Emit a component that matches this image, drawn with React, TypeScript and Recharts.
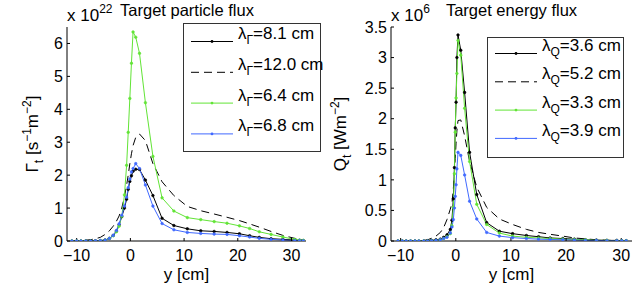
import React from 'react';
import { LineChart, Line, XAxis, YAxis } from 'recharts';

// positions along the target, y [cm]
const LEFT_X = [-10.9, -10.0, -9.2, -8.3, -7.4, -6.5, -5.6, -4.7, -3.9, -3.2, -2.6, -2.1, -1.6, -1.1, -0.7, -0.4, -0.1, 0.2, 0.5, 1.0, 1.7, 2.8, 4.2, 5.9, 8.1, 10.6, 13.1, 15.6, 18.0, 20.3, 22.2, 24.0, 26.2, 28.4, 30.6, 31.5, 32.2];
const RIGHT_X = [-10.5, -9.7, -9.0, -8.2, -7.4, -6.7, -5.8, -5.1, -4.4, -3.6, -2.8, -2.2, -1.6, -1.0, -0.7, -0.45, -0.25, -0.1, 0.05, 0.2, 0.4, 0.9, 1.6, 2.5, 3.8, 5.6, 7.9, 10.3, 12.8, 15.0, 17.1, 19.4, 21.5, 23.5, 25.5, 27.4, 29.2, 30.1, 30.9];

// particle flux, x 1e22
const GAMMA_81 = [0, 0, 0, 0, 0, 0.005, 0.01, 0.03, 0.08, 0.17, 0.30, 0.49, 0.74, 1.0, 1.27, 1.57, 1.81, 1.98, 2.12, 2.18, 2.17, 1.85, 1.38, 0.69, 0.47, 0.37, 0.31, 0.29, 0.26, 0.22, 0.16, 0.11, 0.07, 0.05, 0.03, 0.02, 0.01];
const GAMMA_120 = [0, 0.01, 0.015, 0.025, 0.04, 0.07, 0.11, 0.2, 0.31, 0.45, 0.6, 0.76, 1.0, 1.35, 1.7, 2.0, 2.35, 2.65, 2.9, 3.15, 3.25, 3.05, 2.35, 1.8, 1.38, 1.05, 0.92, 0.82, 0.72, 0.62, 0.52, 0.42, 0.29, 0.17, 0.08, 0.05, 0.03];
const GAMMA_64 = [0, 0, 0, 0, 0, 0, 0.01, 0.03, 0.08, 0.16, 0.28, 0.45, 0.75, 1.4, 2.3, 3.3, 4.33, 5.4, 6.35, 6.19, 5.7, 4.2, 2.57, 1.31, 0.91, 0.71, 0.65, 0.59, 0.54, 0.46, 0.38, 0.28, 0.2, 0.12, 0.05, 0.03, 0.02];
const GAMMA_68 = [0, 0, 0, 0, 0, 0.005, 0.01, 0.03, 0.08, 0.17, 0.32, 0.52, 0.78, 1.06, 1.33, 1.62, 1.88, 2.1, 2.2, 2.35, 2.2, 1.7, 1.06, 0.53, 0.34, 0.26, 0.23, 0.21, 0.2, 0.16, 0.12, 0.08, 0.05, 0.03, 0.01, 0.01, 0.005];

// energy flux, x 1e6
const Q_36 = [0, 0, 0, 0, 0, 0, 0, 0.005, 0.01, 0.02, 0.03, 0.06, 0.1, 0.19, 0.34, 0.69, 1.2, 1.85, 2.27, 3.0, 3.37, 3.12, 2.43, 1.45, 0.76, 0.3, 0.16, 0.12, 0.09, 0.07, 0.05, 0.04, 0.03, 0.02, 0.016, 0.01, 0.01, 0.005, 0.005];
const Q_52 = [0, 0, 0, 0, 0, 0.005, 0.01, 0.02, 0.045, 0.08, 0.14, 0.22, 0.35, 0.52, 0.62, 0.85, 1.1, 1.35, 1.6, 1.8, 1.97, 1.98, 1.72, 1.3, 0.88, 0.55, 0.36, 0.27, 0.19, 0.14, 0.11, 0.08, 0.05, 0.035, 0.02, 0.012, 0.007, 0.005, 0.004];
const Q_33 = [0, 0, 0, 0, 0, 0, 0, 0, 0.005, 0.01, 0.02, 0.04, 0.07, 0.12, 0.25, 0.55, 1.1, 1.78, 2.34, 2.74, 3.28, 3.04, 2.17, 1.3, 0.6, 0.27, 0.13, 0.08, 0.06, 0.05, 0.04, 0.03, 0.025, 0.02, 0.01, 0.01, 0.005, 0.005, 0.005];
const Q_39 = [0, 0, 0, 0, 0, 0, 0, 0, 0.005, 0.01, 0.02, 0.04, 0.06, 0.13, 0.23, 0.35, 0.54, 0.73, 0.92, 1.18, 1.45, 1.4, 1.08, 0.65, 0.36, 0.14, 0.08, 0.055, 0.04, 0.03, 0.025, 0.02, 0.015, 0.01, 0.01, 0.005, 0.005, 0.003, 0.003];

const X_TICKS = [-10, 0, 10, 20, 30];
const LEFT_Y_TICKS = [0, 1, 2, 3, 4, 5, 6];
const RIGHT_Y_TICKS = [0, 0.5, 1, 1.5, 2, 2.5, 3, 3.5];

const LEFT_LABELS = ['8.1', '12.0', '6.4', '6.8'];
const RIGHT_LABELS = ['3.6', '5.2', '3.3', '3.9'];

const GREEN = '#62e436';
const BLUE = '#4069ff';
const FONT = '"Liberation Sans", Arial, Helvetica, sans-serif';

const STYLES = [
  { color: '#000', dashed: false },
  { color: '#000', dashed: true },
  { color: GREEN, dashed: false },
  { color: BLUE, dashed: false },
];

const toPoints = (xs: number[], ys: number[]) => xs.map((x, i) => ({ x, y: ys[i] }));

const leftSeries = [GAMMA_81, GAMMA_120, GAMMA_64, GAMMA_68].map((s) => toPoints(LEFT_X, s));
const rightSeries = [Q_36, Q_52, Q_33, Q_39].map((s) => toPoints(RIGHT_X, s));

const fmt = (v: number) => (v < 0 ? `\u2212${Math.abs(v)}` : `${v}`);
const tickStyle = { fill: '#000', fontSize: 16, fontFamily: FONT };

interface PanelProps {
  series: { x: number; y: number }[][];
  xDomain: [number, number];
  yDomain: [number, number];
  yTicks: number[];
  yAxisWidth: number;
  width: number;
  rightMargin: number;
}

const Panel = ({ series, xDomain, yDomain, yTicks, yAxisWidth, width, rightMargin }: PanelProps) => (
  <LineChart width={width} height={286} margin={{ top: 27, right: rightMargin, bottom: 0, left: 0 }}>
    <XAxis xAxisId="b" type="number" dataKey="x" domain={xDomain} ticks={X_TICKS} interval={0} allowDataOverflow
      height={45} tickSize={-3} tickMargin={12} tickFormatter={fmt} tick={tickStyle}
      axisLine={{ stroke: '#000' }} tickLine={{ stroke: '#000' }} />
    <XAxis xAxisId="t" orientation="top" type="number" dataKey="x" domain={xDomain} ticks={X_TICKS} interval={0} allowDataOverflow
      height={0} tickSize={-3} tick={false} axisLine={{ stroke: '#000' }} tickLine={{ stroke: '#000' }} />
    <YAxis yAxisId="l" type="number" domain={yDomain} ticks={yTicks} interval={0} allowDataOverflow
      width={yAxisWidth} tickSize={-3} tickMargin={7} tick={tickStyle}
      axisLine={{ stroke: '#000' }} tickLine={{ stroke: '#000' }} />
    <YAxis yAxisId="r" orientation="right" type="number" domain={yDomain} ticks={yTicks} interval={0} allowDataOverflow
      width={0} tickSize={-3} tick={false} axisLine={{ stroke: '#000' }} tickLine={{ stroke: '#000' }} />
    {series.map((data, i) => (
      <Line key={i} xAxisId="b" yAxisId="l" data={data} dataKey="y" type="linear"
        stroke={STYLES[i].color} strokeWidth={1}
        strokeDasharray={STYLES[i].dashed ? '8 5' : undefined}
        dot={STYLES[i].dashed ? false : { r: 1.3, fill: STYLES[i].color, stroke: STYLES[i].color, strokeWidth: 0.6 }}
        activeDot={false} isAnimationActive={false} />
    ))}
  </LineChart>
);

interface LegendProps {
  x: number;
  y: number;
  w: number;
  h: number;
  firstLine: number;
  step: number;
  sub: string;
  labels: string[];
}

const LegendBox = ({ x, y, w, h, firstLine, step, sub, labels }: LegendProps) => (
  <g>
    <rect x={x + 0.5} y={y + 0.5} width={w} height={h} fill="#fff" stroke="#333" strokeWidth={1} />
    {labels.map((lab, i) => {
      const ly = firstLine + i * step;
      const st = STYLES[i];
      return (
        <g key={i}>
          <line x1={x + 8} x2={x + 50} y1={ly + 0.5} y2={ly + 0.5} stroke={st.color} strokeWidth={1}
            strokeDasharray={st.dashed ? '8 5' : undefined} />
          {!st.dashed && <circle cx={x + 29} cy={ly + 0.5} r={1.4} fill={st.color} />}
          <text x={x + 55} y={ly - 2} fontSize={17} fontFamily={FONT} fill="#000">
            {'\u03bb'}
            <tspan fontSize={12} dy={5}>{sub}</tspan>
            <tspan dy={-5}>{`=${lab} cm`}</tspan>
          </text>
        </g>
      );
    })}
  </g>
);

const Overlay = () => (
  <svg width={642} height={286} style={{ position: 'absolute', left: 0, top: 0, pointerEvents: 'none' }}>
    <g fontFamily={FONT} fill="#000">
      <text x={67} y={21} fontSize={17}>x 10<tspan fontSize={12} dy={-8}>22</tspan></text>
      <text x={187} y={15.5} fontSize={16.5} textAnchor="middle">Target particle flux</text>
      <text x={391} y={21} fontSize={17}>x 10<tspan fontSize={12} dy={-8}>6</tspan></text>
      <text x={511.5} y={15.5} fontSize={16.5} textAnchor="middle">Target energy flux</text>

      <text x={186.5} y={280} fontSize={17} textAnchor="middle">y [cm]</text>
      <text x={511.5} y={280} fontSize={17} textAnchor="middle">y [cm]</text>

      <text x={38} y={134} fontSize={17} textAnchor="middle" transform="rotate(-90 38 134)">
        {'\u0393'}<tspan fontSize={12} dy={5}>t</tspan><tspan dy={-5}> [s</tspan>
        <tspan fontSize={12} dy={-7}>{'\u2212'}1</tspan><tspan dy={7}>m</tspan>
        <tspan fontSize={12} dy={-7}>{'\u2212'}2</tspan><tspan dy={7}>]</tspan>
      </text>
      <text x={346} y={134} fontSize={17} textAnchor="middle" transform="rotate(-90 346 134)">
        Q<tspan fontSize={12} dy={5}>t</tspan><tspan dy={-5}> [Wm</tspan>
        <tspan fontSize={12} dy={-7}>{'\u2212'}2</tspan><tspan dy={7}>]</tspan>
      </text>
    </g>
    <LegendBox x={183} y={23} w={137} h={128} firstLine={41} step={30.8} sub={'\u0393'} labels={LEFT_LABELS} />
    <LegendBox x={487} y={37} w={136} h={120} firstLine={53} step={28.3} sub="Q" labels={RIGHT_LABELS} />
  </svg>
);

export default function App() {
  return (
    <div style={{ position: 'absolute', left: 0, top: 0, width: 642, height: 286, background: '#fff' }}>
      <div style={{ position: 'absolute', left: 0, top: 0 }}>
        <Panel series={leftSeries} xDomain={[-11.8, 32.7]} yDomain={[0, 6.5]} yTicks={LEFT_Y_TICKS}
          yAxisWidth={67} width={320} rightMargin={14} />
      </div>
      <div style={{ position: 'absolute', left: 320, top: 0 }}>
        <Panel series={rightSeries} xDomain={[-11.75, 31.95]} yDomain={[0, 3.5]} yTicks={RIGHT_Y_TICKS}
          yAxisWidth={71} width={322} rightMargin={10} />
      </div>
      <Overlay />
    </div>
  );
}
